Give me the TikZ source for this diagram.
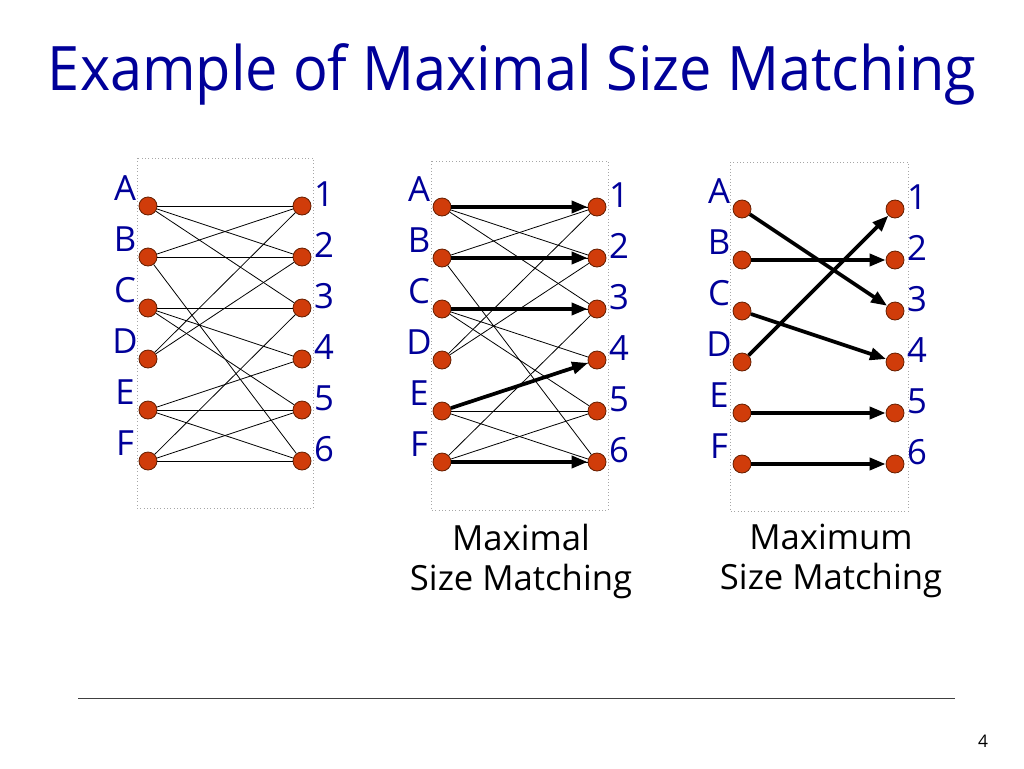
\documentclass[tikz,border=0pt]{standalone}
\usepackage{fontspec}
\setmainfont{Open Sans}
\usetikzlibrary{arrows.meta}
\definecolor{titleblue}{RGB}{0,0,153}
\definecolor{dotred}{RGB}{208,60,10}
\definecolor{dotrim}{RGB}{100,30,0}
\tikzset{
  vtx/.style={circle,fill=dotred,draw=dotrim,line width=0.6pt,minimum size=13.5pt,inner sep=0pt},
  side/.style={text=titleblue,font=\fontsize{26}{26}\selectfont,inner sep=0pt},
  thin edge/.style={line width=0.6pt},
  match/.style={line width=2.8pt,-{Triangle[length=12pt,width=9pt]}},
  frame/.style={draw=black!35,dotted,line width=0.5pt}
}
\begin{document}
\begin{tikzpicture}[x=0.75pt,y=0.75pt,yscale=-1]
\useasboundingbox (0,0) rectangle (1024,768);

% Title
\node[text=titleblue,font=\fontsize{46}{46}\selectfont,anchor=base,xscale=0.94] (title) at (512,90) {Example of Maximal Size Matching};

% Frames
\draw[frame] (137,158) rectangle (313,508);
\draw[frame] (431,161) rectangle (608,510);
\draw[frame] (730,162) rectangle (908,511);

% Vertices and labels
\foreach \g/\xl/\xr/\dy in {l/148/302/0,m/442/597/1,r/742/895/3}{
  \foreach \s/\n [count=\i from 0] in {A/1,B/2,C/3,D/4,E/5,F/6}{
    \node[vtx] (\g\s) at (\xl,{206+51*\i+\dy}) {};
    \node[vtx] (\g\n) at (\xr,{206+51*\i+\dy}) {};
    \node[side] (\g\s-lbl) at ([shift={(-23,-18)}]\g\s) {\s};
    \node[side] (\g\n-lbl) at ([shift={(22,-12)}]\g\n) {\n};
  }
}

% Edges of the graph
\foreach \g in {l,m}{
  \foreach \a/\b in {A/1,A/2,A/3,B/1,B/2,B/6,C/3,C/4,C/5,D/1,D/2,E/4,E/5,E/6,F/3,F/5,F/6}
    \draw[thin edge] (\g\a) -- (\g\b);
}

% Maximal matching
\foreach \a/\b in {A/1,B/2,C/3,E/4,F/6}
  \draw[match] (m\a) -- (m\b);

% Maximum matching
\foreach \a/\b in {A/3,B/2,C/4,D/1,E/5,F/6}
  \draw[match] (r\a) -- (r\b);

% Captions
\node[align=center,font=\fontsize{26}{30}\selectfont] (maximal) at (521,561) {Maximal\\Size Matching};
\node[align=center,font=\fontsize{26}{30}\selectfont] (maximum) at (831,561) {Maximum\\Size Matching};

% Footer
\draw[black!75,line width=0.75pt] (78,698) -- (955,698);
\node[font=\fontsize{13}{13}\selectfont] (pagenum) at (983,741) {4};

\end{tikzpicture}
\end{document}
